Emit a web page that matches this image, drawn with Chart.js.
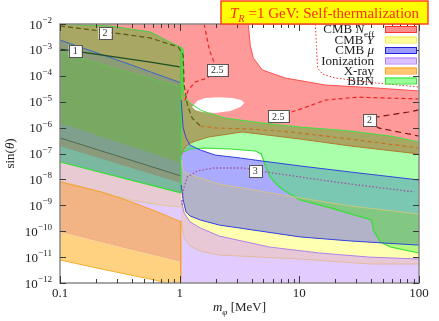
<!DOCTYPE html>
<html><head><meta charset="utf-8">
<script src="https://cdn.jsdelivr.net/npm/chart.js@4/dist/chart.umd.min.js"></script>
<style>html,body{margin:0;padding:0;background:#fff}canvas{display:block}</style>
</head><body>
<canvas id="c" width="439" height="321"></canvas>
<script>
// ---------------- axes / text ----------------
const xMin = 0.1, xMax = 100;
const yMin = 1e-12, yMax = 1e-2;
const xTickValues = [0.1, 1, 10, 100];
const xTickLabels = ['0.1', '1', '10', '100'];
const yTickExponents = [-2, -3, -4, -5, -6, -7, -8, -9, -10, -11, -12];
const legendLabels = ['CMB N_eff', 'CMB Y', 'CMB μ', 'Ionization', 'X-ray', 'BBN'];
const titleText = 'T_R =1 GeV: Self-thermalization';
const xTitle = 'm_φ [MeV]';
const yTitle = 'sin(θ)';

// ---------------- left part (m < 1 MeV), [m, sin(theta)] ----------------
const bbnUpperL   = [[0.1,1.0e-2],[0.26,8.4e-3],[0.57,4.9e-3],[1.0,1.3e-3],[1.03,1.3e-3]];
const oliveLowerL = [[0.1,4.1e-4],[1.03,2.8e-5]];
const muUpperL    = [[0.1,2.4e-3],[0.32,3.7e-4],[1.03,5.3e-5]];
const muFillLowerL= [[0.1,2.0e-4],[1.03,1.5e-5]];
const greenEdgeL  = [[0.1,8.3e-4],[0.32,1.68e-4],[1.03,3.7e-5]];
const contour1L   = [[0.1,1.08e-3],[0.22,6.4e-4],[0.57,3.4e-4],[1.0,2.2e-4]];
const greyUpperL  = [[0.1,1.5e-6],[1.03,4.3e-8]];
const bandUpperL  = [[0.1,4.0e-7],[1.03,1.35e-8]];
const bandLowerL  = [[0.1,1.95e-7],[1.03,7.3e-9]];
const bbnLowerL   = [[0.1,4.7e-8],[1.03,3.0e-9]];
const ionUpperL   = [[0.1,8.7e-9],[0.22,3.3e-9],[0.385,1.6e-9],[0.69,1.03e-9],[1.03,8.6e-10]];
const xrayUpperL  = [[0.1,7.9e-9],[0.15,5.1e-9],[0.22,3.3e-9],[0.32,1.9e-9],[0.47,1.0e-9],[0.69,5.0e-10],[1.03,2.3e-10]];
const xrayMidL    = [[0.1,9.3e-11],[0.32,2.4e-11],[1.03,6.5e-12]];
const xrayLowerL  = [[0.1,7.7e-12],[0.22,3.5e-12],[0.62,1.3e-12],[0.83,9e-13],[1.03,8e-13]];
const bbnEdgeV    = [[1.02,1.3e-3],[1.02,3.0e-9]];
const xrayEdgeV   = [[1.02,2.3e-10],[1.02,8e-13]];

// ---------------- right part (m > 1 MeV) ----------------
const neffTop     = [[0.1,1e-2],[100,1e-2]];
const neffLeftCut = [[1.03,2.8e-5],[0.1,2.8e-5]];
const neffLower   = [[1.03,8.7e-8],[1.07,1.36e-7],[1.13,1.95e-7],[1.22,2.5e-7],[1.35,3.0e-7],[1.73,4.3e-7],[3.33,6.8e-7],[10.2,3.6e-7],[26.7,1.95e-7],[100,9.6e-8]];
const bbnUpper    = [[1.03,1.3e-3],[1.07,9.9e-4],[1.07,2.4e-5],[1.11,1.5e-5],[1.22,8.9e-6],[1.49,4.8e-6],[1.73,3.7e-6],[2.4,2.35e-6],[4.9,1.5e-6],[10.2,1.05e-6],[26.7,7.4e-7],[57.8,4.7e-7],[100,2.8e-7]];
const bbnLower    = [[1.07,1.14e-7],[1.22,1.49e-7],[1.57,1.63e-7],[2.65,1.49e-7],[4.29,1.25e-7],[4.81,9.6e-8],[5.0,5.6e-8],[5.3,2.75e-8],[5.71,1.24e-8],[6.55,6.1e-9],[7.35,3.9e-9],[10.2,1.6e-9],[18.2,7.9e-10],[40.1,2.7e-10],[41.6,1.11e-10],[47.6,3.8e-11],[57.8,2.45e-11],[100,1.44e-11]];
const muUpper     = [[1.03,1.16e-5],[1.05,3.1e-6],[1.07,9.7e-7],[1.13,4.0e-7],[1.22,2.1e-7],[1.49,1.36e-7],[1.98,8.7e-8],[3.21,6.7e-8],[4.9,5.1e-8],[10.2,3.3e-8],[26.7,1.93e-8],[100,9.5e-9]];
const muLower     = [[1.03,6.1e-9],[1.07,1.6e-9],[1.13,5.5e-10],[1.22,3.9e-10],[1.49,2.7e-10],[2.14,1.73e-10],[10.2,6.0e-11],[26.7,4.2e-11],[100,2.9e-11]];
const yUpper      = [[1.03,5.6e-8],[1.07,1.93e-8],[1.49,1.13e-8],[2.14,6.6e-9],[10.2,1.91e-9],[26.7,9.4e-10],[100,4.6e-10]];
const yLower      = [[1.03,1.6e-9],[1.09,5.0e-10],[1.22,2.3e-10],[1.49,1.33e-10],[2.14,6.5e-11],[5.61,2.45e-11],[14.7,1.44e-11],[38.5,1.0e-11],[100,8.4e-12]];
const xrayLowerR  = [[1.03,2.7e-10],[1.09,5.5e-11],[1.22,2.7e-11],[1.49,1.72e-11],[2.14,1.2e-11],[10.2,8.4e-12],[39.3,5.4e-12],[100,5.4e-12]];
const ionFloor    = [[1.03,1e-12],[100,1e-12]];
const bbnMuOverlapL = [[1.03,1.16e-5],[1.07,9.7e-7],[1.13,4.0e-7],[1.22,2.1e-7],[1.37,1.56e-7],[1.22,1.49e-7],[1.07,1.14e-7],[1.03,1.04e-7]];
const bbnMuOverlap  = [[5.0,5.1e-8],[10.2,3.3e-8],[26.7,1.93e-8],[100,9.5e-9],[100,2.9e-11],[49.5,3.5e-11],[47.6,3.8e-11],[41.6,1.11e-10],[40.1,2.7e-10],[18.2,7.9e-10],[10.2,1.6e-9],[7.35,3.9e-9],[6.55,6.1e-9],[5.71,1.24e-8],[5.3,2.75e-8]];
const bbnMuYOverlap = [[9.27,2.1e-9],[26.7,9.4e-10],[100,4.6e-10],[100,2.9e-11],[49.5,3.5e-11],[47.6,3.8e-11],[41.6,1.11e-10],[40.1,2.7e-10],[18.2,7.9e-10],[10.2,1.6e-9]];
const bbnYOverlap   = [[49.5,3.5e-11],[57.8,2.45e-11],[100,1.44e-11],[100,2.9e-11]];
const neffHole      = [[1.27,6.2e-6],[1.40,1.06e-5],[1.63,1.39e-5],[2.10,1.5e-5],[2.75,1.39e-5],[3.27,1.16e-5],[3.47,8.9e-6],[3.21,6.2e-6],[2.65,4.4e-6],[1.98,3.7e-6],[1.54,4.0e-6],[1.35,4.8e-6]];
const neffAllowedEdge = [[3.74,1e-2],[3.89,1.5e-3],[4.12,4.9e-4],[4.9,1.68e-4],[7.64,8.2e-5],[16.5,4.4e-5],[43.3,3.4e-5],[100,2.6e-5]];
const neffAllowedCap  = [[100,1e-2]];

// ---------------- contours ----------------
const c2Left   = [[0.1,8.4e-3],[0.216,5.4e-3],[0.566,2.9e-3],[0.971,1.3e-3],[1.07,6.4e-4],[1.09,4.4e-5],[1.16,7.5e-6],[1.27,2.35e-6],[1.49,1.15e-6]];
const c25Band  = [[1.49,1.15e-6],[1.98,9.7e-7],[3.89,8.8e-7],[8.41,6.8e-7],[26.7,3.6e-7],[100,1.63e-7]];
const c25Upper = [[1.60,1e-2],[1.67,3.8e-3],[1.77,9.9e-4],[1.95,3.1e-4],[2.06,1.68e-4],[1.70,8.2e-5],[1.35,5.8e-5],[1.18,2.8e-5],[1.09,8.9e-6]];
const c25Right = [[6.67,2.8e-6],[9.8,4.8e-6],[16.5,1.16e-5],[31.2,1.5e-5],[100,1.27e-5]];
const neffDotted = [[13.6,1e-2],[13.9,1.5e-3],[14.2,2.0e-4],[15.6,1.17e-4],[20.0,8.2e-5],[43.3,5.3e-5],[100,3.7e-5]];
const c2Right  = [[100,4.8e-6],[81.7,4.0e-6],[44.1,2.56e-6],[38.5,1.96e-6],[45.8,9.7e-7],[90.0,5.2e-7],[100,4.7e-7]];
const c3       = [[1.05,1.03e-9],[1.07,3.9e-9],[1.16,1.24e-8],[1.40,2.1e-8],[1.91,2.75e-8],[3.40,2.75e-8],[4.29,2.3e-8],[5.30,1.93e-8],[10.2,1.24e-8],[26.7,6.6e-9],[91.6,3.3e-9]];

const labelTexts = ['1', '2', '2.5', '2.5', '2', '3'];
const labelMass  = [0.134, 0.238, 2.06, 6.67, 38.5, 4.29];
const labelSin   = [9.1e-4, 4.5e-3, 1.68e-4, 2.7e-6, 1.96e-6, 2.1e-8];

// ---------------- build datasets ----------------
const poly = (upper, lower) => upper.concat(lower.slice().reverse());
const toXY = arr => arr.map(p => ({x: p[0], y: p[1]}));
const datasets = [];
function addFill(arr, color) {
  datasets.push({data: toXY(arr), fill: 'shape', backgroundColor: color, borderColor: 'rgba(0,0,0,0)', borderWidth: 0, pointRadius: 0, tension: 0});
}
function addLine(arr, color, width, dash) {
  datasets.push({data: toXY(arr), fill: false, borderColor: color, borderWidth: width, borderDash: dash || [], pointRadius: 0, tension: 0});
}
// fills, back to front
addFill(neffTop.concat(neffLower.slice().reverse(), neffLeftCut), '#ff9a9a');
addFill(poly(bbnUpperL, oliveLowerL), '#a8a864');
addFill(poly(muUpperL, muFillLowerL), '#8c9c76');
addFill(poly(greenEdgeL, bbnLowerL), '#78a862');
addFill(poly(greyUpperL, bbnLowerL), '#80a08e');
addFill(poly(bandLowerL, bbnLowerL), '#7ab8a0');
addFill(poly(bandUpperL, bandLowerL), '#8a9a7c');
addFill(poly(ionUpperL, xrayMidL), '#e2ccff');
addFill(poly(xrayUpperL, xrayMidL), '#f2b484');
addFill(poly(xrayMidL, xrayLowerL), '#ffd282');
addFill(poly(bbnLowerL, ionUpperL), '#e8cad2');
addFill(poly(ionFloor, muUpper), '#e2ccff');
addFill(poly(xrayLowerR, muUpper), '#e8c8d6');
addFill(poly(yUpper, yLower), '#ffffb2');
addFill(poly(muUpper, muLower), '#aaaaff');
addFill(poly(yUpper, muLower), '#b2b2c8');
addFill(poly(bbnUpper, bbnLower), '#aaffaa');
addFill(bbnMuOverlapL, '#7ac8b2');
addFill(bbnMuOverlap, '#7ac8b2');
addFill(bbnMuYOverlap, '#82c882');
addFill(bbnYOverlap, '#b4f882');
addFill(poly(bbnUpper, neffLower), '#a8a864');
addFill(neffHole, '#ffffff');
addFill(neffAllowedEdge.concat(neffAllowedCap), '#ffffff');
// boundary lines
addLine(bbnUpperL, '#44d044', 1);
addLine(muUpperL, '#3a66c8', 1);
addLine(greenEdgeL, '#66c050', 1);
addLine(bandUpperL, '#4d6a50', 1);
addLine(bbnLowerL, '#30e030', 1.2);
addLine(ionUpperL, '#e0c080', 0.8);
addLine(xrayUpperL, '#f5a030', 1);
addLine(xrayLowerL, '#f5b030', 1);
addLine(bbnEdgeV, '#44d044', 1);
addLine(xrayEdgeV, '#f5a030', 1);
addLine(neffLower, '#b07a30', 1);
addLine(bbnUpper, '#44dd44', 1);
addLine(bbnLower, '#33e033', 1.2);
addLine(muUpper, '#3344dd', 1);
addLine(muLower, '#3344dd', 1);
addLine(yUpper, '#d8c878', 0.8);
addLine(yLower, '#b080ee', 1);
addLine(xrayLowerR, '#e0b888', 0.8);
addLine(neffAllowedEdge, '#ff5050', 1);
// contours
addLine(contour1L, '#1e4d24', 1.3);
addLine(c2Left, '#5a5a14', 1.2, [5, 3]);
addLine(c25Band, '#c87020', 1.2, [4, 3]);
addLine(c25Upper, '#ee2222', 1.2, [4, 3]);
addLine(c25Right, '#ee2222', 1.2, [4, 3]);
addLine(neffDotted, '#ee3333', 1, [1.5, 2]);
addLine(c2Right, '#801010', 1.2, [6, 4]);
addLine(c3, '#a050a0', 1.3, [1.5, 2]);
datasets.forEach((d, i) => { d.order = datasets.length - i; });

// ---------------- rich text helper ----------------
const FONT = '"Liberation Serif", "DejaVu Serif", serif';
function parseRich(str) {
  const segs = [];
  str.split(/( )/).forEach(tok => {
    if (tok.includes('_')) {
      const [b, s] = tok.split('_');
      segs.push({t: b, it: true});
      segs.push({t: s, sub: true, it: s.length === 1});
    } else if (tok === 'Y' || tok === 'μ') {
      segs.push({t: tok, it: true});
    } else if (tok.length) segs.push({t: tok});
  });
  return segs;
}
function drawRich(ctx, segs, x, y, align, size) {
  let w = 0;
  const m = segs.map(s => {
    const sz = (s.sub || s.sup) ? size * 0.7 : size;
    const font = (s.it ? 'italic ' : '') + sz + 'px ' + FONT;
    ctx.font = font;
    const width = ctx.measureText(s.t).width;
    w += width;
    return {t: s.t, font, width, dy: s.sub ? size * 0.28 : (s.sup ? -size * 0.42 : 0)};
  });
  let cx = align === 'right' ? x - w : (align === 'center' ? x - w / 2 : x);
  ctx.textAlign = 'left';
  ctx.textBaseline = 'alphabetic';
  m.forEach(s => { ctx.font = s.font; ctx.fillText(s.t, cx, y + s.dy); cx += s.width; });
  return w;
}

const legendFill = ['#ff8c8c', '#ffff99', '#9a9aff', '#dcc0ff', '#ffc870', '#99ff99'];
const legendEdge = ['#ff3030', '#eeee55', '#2020e0', '#b080ff', '#ffa020', '#30e030'];

const decor = {
  id: 'decor',
  afterDatasetsDraw(chart) {
    const {ctx, scales: {x, y}} = chart;
    ctx.save();
    labelTexts.forEach((t, i) => {
      const px = x.getPixelForValue(labelMass[i]), py = y.getPixelForValue(labelSin[i]);
      ctx.font = '10px ' + FONT;
      const w = ctx.measureText(t).width + 8, h = 12;
      ctx.fillStyle = '#fff';
      ctx.fillRect(px - w / 2, py - h / 2, w, h);
      ctx.strokeStyle = '#555'; ctx.lineWidth = 1; ctx.setLineDash([]);
      ctx.strokeRect(Math.round(px - w / 2) + 0.5, Math.round(py - h / 2) + 0.5, Math.round(w), h);
      ctx.fillStyle = '#333'; ctx.textAlign = 'center'; ctx.textBaseline = 'middle';
      ctx.fillText(t, px, py + 0.5);
    });
    ctx.restore();
  },
  afterDraw(chart) {
    const {ctx, chartArea: a, scales: {x, y}} = chart;
    ctx.save();
    ctx.setLineDash([]);
    // frame
    ctx.strokeStyle = '#8a8a8a'; ctx.lineWidth = 1.5;
    ctx.strokeRect(a.left, a.top, a.right - a.left, a.bottom - a.top);
    // x ticks
    ctx.strokeStyle = '#3a3a3a'; ctx.lineWidth = 1;
    for (let d = 0.1; d < 100; d *= 10) {
      for (let k = 1; k <= 10; k++) {
        const v = d * k;
        const px = Math.round(x.getPixelForValue(v)) + 0.5;
        const len = (k === 1 || k === 10) ? 7 : 4;
        ctx.beginPath();
        ctx.moveTo(px, a.bottom); ctx.lineTo(px, a.bottom - len);
        ctx.moveTo(px, a.top); ctx.lineTo(px, a.top + len);
        ctx.stroke();
      }
    }
    // y ticks
    yTickExponents.forEach(e => {
      const py = Math.round(y.getPixelForValue(Math.pow(10, e))) + 0.5;
      ctx.beginPath();
      ctx.moveTo(a.left, py); ctx.lineTo(a.left + 6, py);
      ctx.moveTo(a.right, py); ctx.lineTo(a.right - 6, py);
      ctx.stroke();
    });
    // tick labels
    ctx.fillStyle = '#222';
    xTickValues.forEach((v, i) => {
      drawRich(ctx, [{t: xTickLabels[i]}], x.getPixelForValue(v), a.bottom + 14, 'center', 13);
    });
    yTickExponents.forEach(e => {
      const py = y.getPixelForValue(Math.pow(10, e));
      drawRich(ctx, [{t: '10'}, {t: '\u2212' + (-e), sup: true}], a.left - 8, py + 4.5, 'right', 13);
    });
    // axis titles
    const xt = xTitle.split(' ');
    drawRich(ctx, parseRich(xt[0]).concat([{t: ' ' + xt[1]}]), (a.left + a.right) / 2, 311, 'center', 13);
    ctx.save();
    ctx.translate(14, (a.top + a.bottom) / 2);
    ctx.rotate(-Math.PI / 2);
    drawRich(ctx, [{t: 'sin('}, {t: 'θ', it: true}, {t: ')'}], 0, 0, 'center', 13);
    ctx.restore();
    // legend
    const rowY = [29, 39.5, 50, 60.5, 70.5, 80.5];
    legendLabels.forEach((lab, i) => {
      ctx.fillStyle = '#222';
      drawRich(ctx, parseRich(lab), 374, rowY[i] + 4, 'right', 13);
      ctx.fillStyle = legendFill[i];
      ctx.fillRect(385, rowY[i] - 3, 31, 6);
      ctx.strokeStyle = legendEdge[i]; ctx.lineWidth = 1;
      ctx.strokeRect(385.5, rowY[i] - 2.5, 31, 6);
    });
    // title box
    ctx.fillStyle = '#ffff00';
    ctx.fillRect(221, 1, 207, 23);
    ctx.strokeStyle = '#ff4422'; ctx.lineWidth = 1.5;
    ctx.strokeRect(221, 1, 207, 23);
    ctx.fillStyle = '#ff2a10';
    drawRich(ctx, parseRich(titleText), 324.5, 18, 'center', 15);
    ctx.restore();
  }
};

new Chart(document.getElementById('c'), {
  type: 'line',
  data: {datasets},
  options: {
    responsive: false,
    animation: false,
    events: [],
    layout: {padding: {top: 24, right: 20, left: 0, bottom: 0}},
    plugins: {legend: {display: false}, tooltip: {enabled: false}, title: {display: false}},
    scales: {
      x: {type: 'logarithmic', min: xMin, max: xMax, ticks: {display: false}, grid: {display: false}, border: {display: false},
          afterFit: s => { s.height = 38; }},
      y: {type: 'logarithmic', min: yMin, max: yMax, ticks: {display: false}, grid: {display: false}, border: {display: false},
          afterFit: s => { s.width = 60; }}
    }
  },
  plugins: [decor]
});
</script>
</body></html>
